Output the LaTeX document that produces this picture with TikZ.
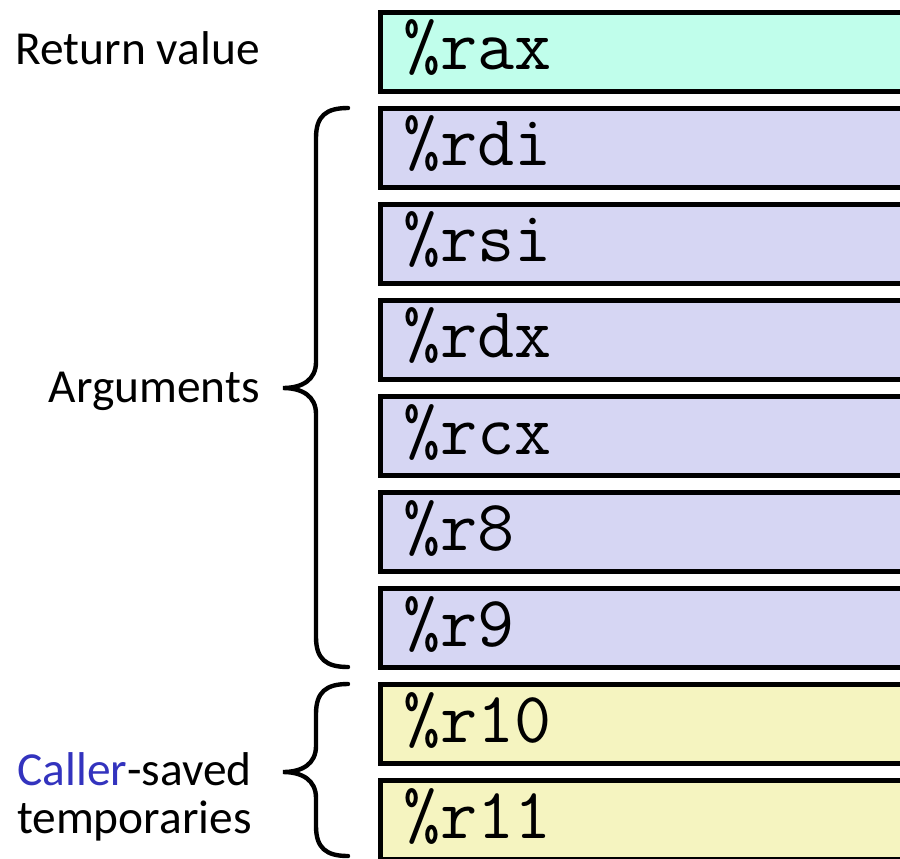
\documentclass[tikz,border=0pt]{standalone}
\usepackage{fontspec}
\setmainfont{Carlito}
\usetikzlibrary{positioning}

\definecolor{rueckgabe}{RGB}{192,254,235}
\definecolor{argument}{RGB}{214,214,243}
\definecolor{temporaer}{RGB}{245,244,192}
\definecolor{callerblau}{RGB}{51,51,190}

\begin{document}
\begin{tikzpicture}[x=0.5pt,y=-0.5pt,
	reg/.style={draw=black,line width=2.5pt,fill=#1,
		minimum width=285pt,minimum height=39.75pt,
		text width=262pt,align=left,inner xsep=11.5pt,inner ysep=0pt,
		text height=18pt,text depth=0pt,
		font=\ttfamily\fontsize{36}{38}\selectfont},
	lbl/.style={anchor=base east,inner sep=0pt,align=right,
		font=\fontsize{23.7}{24}\selectfont},
	bogen/.style={line width=2.2pt,line cap=round}]

\def\klip{
	\clip (0,0) rectangle (900,858);
}

% top, tip, bottom
\def\klammer#1#2#3{
	\draw[bogen] (348,#1) .. controls (326,#1) and (316,#1+8) .. (316,#1+30)
		-- (316,#2-26) .. controls (316,#2-8) and (302,#2) .. (283,#2)
		.. controls (302,#2) and (316,#2+8) .. (316,#2+26)
		-- (316,#3-30) .. controls (316,#3-8) and (326,#3) .. (348,#3);
}

\klip

\node[reg=rueckgabe] (rax) at (665, 51.75) {\%rax};
\node[reg=argument]  (rdi) at (665,147.81) {\%rdi};
\node[reg=argument]  (rsi) at (665,243.87) {\%rsi};
\node[reg=argument]  (rdx) at (665,339.93) {\%rdx};
\node[reg=argument]  (rcx) at (665,435.99) {\%rcx};
\node[reg=argument]  (r8)  at (665,532.05) {\%r8};
\node[reg=argument]  (r9)  at (665,628.11) {\%r9};
\node[reg=temporaer] (r10) at (665,724.17) {\%r10};
\node[reg=temporaer] (r11) at (665,820.23) {\%r11};

\klammer{108}{388}{667}
\klammer{684}{772}{856}

\node[lbl] (ret) at (260,64) {Return value};
\node[lbl] (arg) at (260,402) {Arguments};
% base is the last line here
\node[lbl] (tmp) at (252,833) {{\color{callerblau}Caller}-saved\\temporaries};

\end{tikzpicture}
\end{document}
